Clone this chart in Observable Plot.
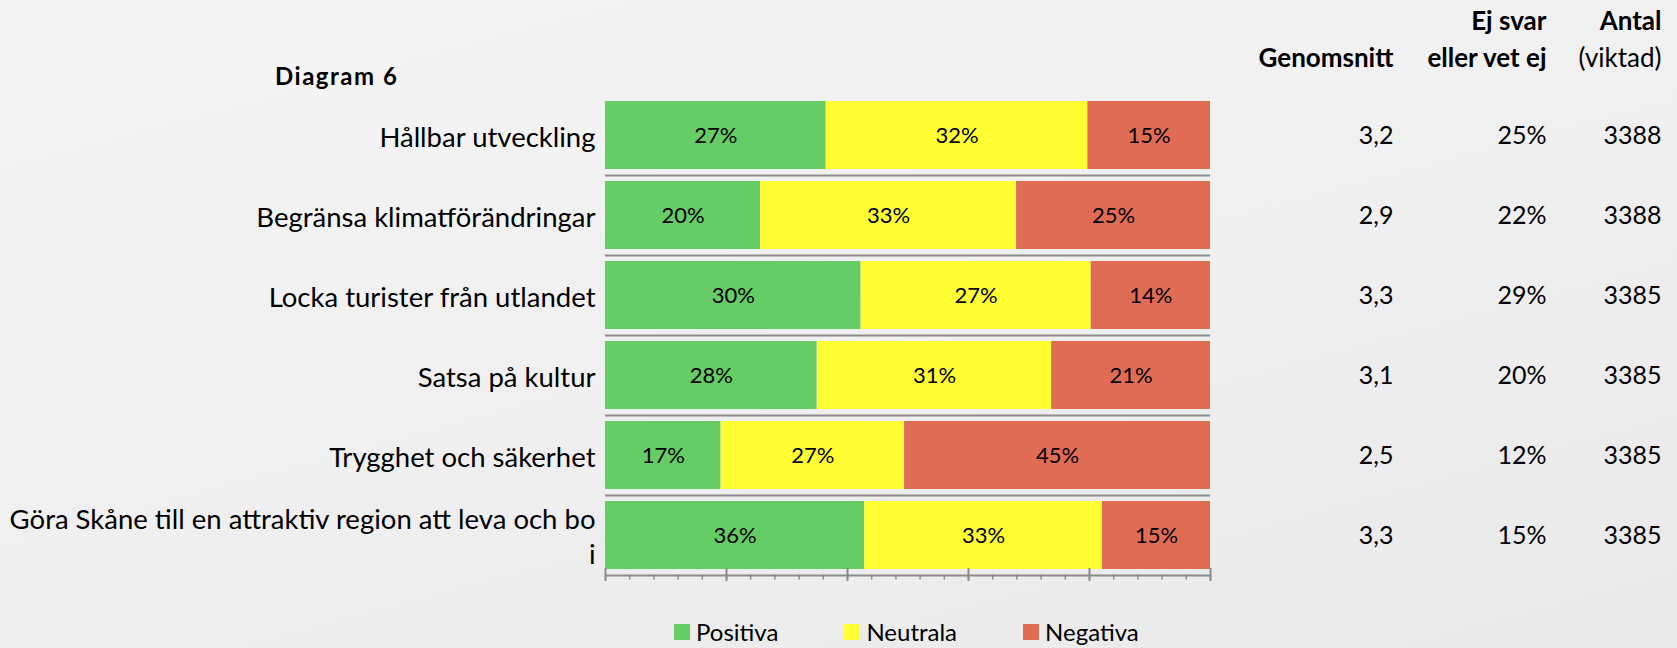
<!DOCTYPE html>
<html><head><meta charset="utf-8">
<script src="https://cdn.jsdelivr.net/npm/d3@7"></script>
<script src="https://cdn.jsdelivr.net/npm/@observablehq/plot@0.6"></script>
<style>
html,body{margin:0;padding:0;}
body{width:1677px;height:648px;overflow:hidden;position:relative;
  background:linear-gradient(165deg,#f5f5f5 0%,#efefef 55%,#e9e9e9 100%);font-family:Lato,sans-serif;color:#000;}
#chart{position:absolute;left:0;top:0;}
#title{position:absolute;left:275px;top:62px;font-weight:bold;font-size:24px;letter-spacing:1.5px;line-height:28px;}
#legend{position:absolute;left:674px;top:615px;}
#legend .lg-swatch{margin-right:66px !important;}
#legend .lg-swatch > svg{margin-right:6px !important;}
</style></head><body>
<div id="title">Diagram 6</div>
<div id="chart"></div>
<div id="legend"></div>
<script>
// ---- data ----
const categories = [
  "Hållbar utveckling",
  "Begränsa klimatförändringar",
  "Locka turister från utlandet",
  "Satsa på kultur",
  "Trygghet och säkerhet",
  "Göra Skåne till en attraktiv region att leva och bo i"
];
const positiva = [27, 20, 30, 28, 17, 36];
const neutrala = [32, 33, 27, 31, 27, 33];
const negativa = [15, 25, 14, 21, 45, 15];
const genomsnitt = ["3,2", "2,9", "3,3", "3,1", "2,5", "3,3"];
const ejSvar = [25, 22, 29, 20, 12, 15];
const antal = [3388, 3388, 3385, 3385, 3385, 3385];
const seriesNames = ["Positiva", "Neutrala", "Negativa"];
const seriesColors = ["#66cc66", "#ffff33", "#e06c55"];
const columnTitles = [["", "Genomsnitt"], ["Ej svar", "eller vet ej"], ["Antal", "(viktad)"]];
const majorTicks = [0, 0.2, 0.4, 0.6, 0.8, 1];
const minorTicks = [0,0.04,0.08,0.12,0.16,0.2,0.24,0.28,0.32,0.36,0.4,0.44,0.48,0.52,0.56,0.6,0.64,0.68,0.72,0.76,0.8,0.84,0.88,0.92,0.96,1];

// ---- tables built from arrays ----
const seriesValues = [positiva, neutrala, negativa];
const stacked = [];
categories.forEach((c, i) => seriesValues.forEach((arr, j) =>
  stacked.push({cat: c, series: seriesNames[j], value: arr[i]})));
const rows = categories.map((c, i) => ({cat: c, g: genomsnitt[i], e: ejSvar[i] + "%", n: String(antal[i])}));
const rowCols = ["g", "e", "n"];

function wrap(s, max) {
  const lines = []; let cur = "";
  for (const w of s.split(" ")) {
    if (cur && (cur + " " + w).length > max) { lines.push(cur); cur = w; }
    else cur = cur ? cur + " " + w : w;
  }
  lines.push(cur);
  return lines.join("\n");
}

// ---- layout ----
const W = 1677, H = 600;
const mTop = 94.5, mBottom = H - 574.5, mLeft = 605, mRight = W - 1210;
const step = (H - mBottom - mTop) / categories.length;
const colDx = [183, 336, 451];
const gray = "#8c8c8c";

const marks = [
  Plot.barX(stacked, Plot.stackX({x: "value", y: "cat", fill: "series", order: seriesNames, offset: "normalize"})),
  Plot.text(stacked, Plot.stackX({x: "value", y: "cat", z: "series", order: seriesNames, offset: "normalize",
    text: d => d.value + "%", fontSize: 22, fill: "#000"})),
  Plot.ruleY(categories, {y: d => d, dy: step / 2, stroke: gray, strokeWidth: 2}),
  Plot.axisX({ticks: minorTicks, tickSize: 5, tickFormat: () => "", stroke: gray, strokeWidth: 1.5, label: null}),
  Plot.axisX({ticks: majorTicks, tickSize: 13, dy: -6.5, tickFormat: () => "", stroke: gray, strokeWidth: 2, label: null}),
  Plot.axisY({tickSize: 0, tickPadding: 10, fontSize: 27.5, lineHeight: 1.28, tickFormat: d => wrap(d, 51), label: null, fill: "#000"})
];
rowCols.forEach((k, ci) => {
  marks.push(Plot.text(rows, {y: "cat", text: k, frameAnchor: "right", dx: colDx[ci], textAnchor: "end", fontSize: 25, fill: "#000"}));
  const [l1, l2] = columnTitles[ci];
  if (l1) marks.push(Plot.text([l1], {text: d => d, frameAnchor: "top-right", dx: colDx[ci], dy: -73.5,
    textAnchor: "end", lineAnchor: "middle", fontSize: 26, fontWeight: "bold", fill: "#000"}));
  marks.push(Plot.text([l2], {text: d => d, frameAnchor: "top-right", dx: colDx[ci], dy: -36.8,
    textAnchor: "end", lineAnchor: "middle", fontSize: 26, fontWeight: l2.startsWith("(") ? "normal" : "bold", fill: "#000"}));
});

const chart = Plot.plot({
  width: W, height: H,
  marginTop: mTop, marginBottom: mBottom, marginLeft: mLeft, marginRight: mRight,
  style: {background: "transparent", fontFamily: "Lato", color: "#000", overflow: "visible"},
  x: {domain: [0, 1], axis: null},
  y: {domain: categories, paddingInner: 0.15, paddingOuter: 0.075, axis: null},
  color: {domain: seriesNames, range: seriesColors},
  marks
});
document.getElementById("chart").appendChild(chart);

const legend = Plot.legend({
  color: {type: "ordinal", domain: seriesNames, range: seriesColors},
  swatchSize: 16, className: "lg",
  style: {fontSize: "24px", fontFamily: "Lato", color: "#000", background: "transparent"}
});
document.getElementById("legend").appendChild(legend);
</script>
</body></html>
